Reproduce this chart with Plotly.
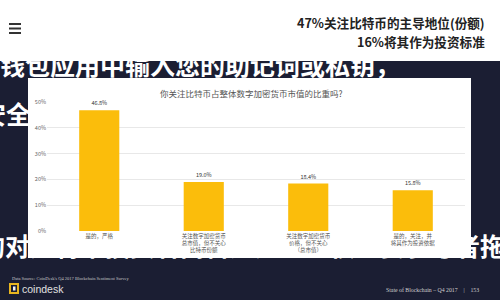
import plotly.graph_objects as go

# ---- data ----
categories = [
    "是的，严格",
    "关注数字加密货币<br>总市值，但不关心<br>比特币份额",
    "关注数字加密货币<br>价格，但不关心<br>（总市值）",
    "是的，关注，并<br>将其作为投资依据",
]
values = [46.8, 19.0, 18.4, 15.8]
value_labels = ["46.8%", "19.0%", "18.4%", "15.8%"]
y_ticks = [0, 10, 20, 30, 40, 50]
y_tick_labels = ["0%", "10%", "20%", "30%", "40%", "50%"]

chart_title = "你关注比特币占整体数字加密货币市值的比重吗?"
headline_1 = "47%关注比特币的主导地位(份额)"
headline_2 = "16%将其作为投资标准"
brush_texts = ["钱包应用中输入您的助记词或私钥，", "安全", "的对", "比特币投资者而言这是一个很重要参考者拖"]
brush_x = [0, 31, 30, 30]
brush_y = [69, 118, 250, 250]
brush_pos = ["middle right", "middle left", "middle left", "middle right"]
source_text = "Data Source: CoinDesk's Q4 2017 Blockchain Sentiment Survey"
footer_right = "State of Blockchain – Q4 2017    |    153"
brand = "coindesk"

W, H = 500, 300
NAVY = "#1b1e33"
BAR = "#fbbd0b"
CJK = "Noto Sans CJK SC"

# plot area of the bar chart, in page pixels
PL, PR, PT, PB = 47, 465, 102, 231
# white panel behind the chart, in page pixels
QL, QR, QT, QB = 28, 471, 78, 258


def px(x):
    return x / W


def py(y):
    return 1 - y / H


fig = go.Figure()
# decorative brush lettering on the navy background (full-page subplot, underneath the panel)
fig.add_trace(go.Scatter(
    x=brush_x, y=brush_y, mode="text", text=brush_texts, textposition=brush_pos,
    textfont=dict(size=25, color="white", family=CJK, weight="bold"),
    cliponaxis=True, hoverinfo="skip", xaxis="x", yaxis="y",
))
# the bar chart
fig.add_trace(go.Bar(
    x=list(range(len(values))),
    y=values,
    marker=dict(color=BAR, line=dict(width=0)),
    text=value_labels,
    textposition="outside",
    textfont=dict(size=5.5, color="#333333", family=CJK),
    cliponaxis=False,
    hoverinfo="skip",
    xaxis="x2", yaxis="y2",
))

pw, ph = PR - PL, PB - PT
shapes = [
    dict(type="rect", xref="paper", yref="paper", x0=0, x1=1, y0=py(61), y1=1,
         fillcolor="white", line=dict(width=0), layer="below"),
    dict(type="rect", xref="x2 domain", yref="y2 domain",
         x0=(QL - PL) / pw, x1=(QR - PL) / pw,
         y0=(PB - QB) / ph, y1=(PB - QT) / ph,
         fillcolor="white", line=dict(width=0), layer="below"),
]
for yy in (24, 28.5, 33):
    shapes.append(dict(type="line", xref="paper", yref="paper", x0=px(9), x1=px(21),
                       y0=py(yy), y1=py(yy), line=dict(color="#333333", width=2)))
shapes.append(dict(type="rect", xref="paper", yref="paper", x0=px(10), x1=px(18),
                   y0=py(293), y1=py(284), fillcolor="rgba(0,0,0,0)",
                   line=dict(color="#e8b520", width=2)))
shapes.append(dict(type="rect", xref="paper", yref="paper", x0=px(13), x1=px(15.5),
                   y0=py(290.5), y1=py(286.5), fillcolor="#f0f0f0",
                   line=dict(width=0)))

ann = []
ann.append(dict(text="<b>" + headline_1 + "</b>", x=px(487), y=py(22), xref="paper", yref="paper",
                xanchor="right", yanchor="middle", showarrow=False,
                font=dict(size=12.6, color="#222222", family=CJK)))
ann.append(dict(text="<b>" + headline_2 + "</b>", x=px(487), y=py(41), xref="paper", yref="paper",
                xanchor="right", yanchor="middle", showarrow=False,
                font=dict(size=12.6, color="#222222", family=CJK)))
ann.append(dict(text=chart_title, x=px(251), y=py(93), xref="paper", yref="paper",
                xanchor="center", yanchor="middle", showarrow=False,
                font=dict(size=8.5, color="#555555", family=CJK)))
ann.append(dict(text=source_text, x=px(10), y=py(278), xref="paper", yref="paper",
                xanchor="left", yanchor="middle", showarrow=False,
                font=dict(size=4.5, color="#c8c8c8", family="Liberation Serif")))
ann.append(dict(text=brand, x=px(20), y=py(289), xref="paper", yref="paper",
                xanchor="left", yanchor="middle", showarrow=False,
                font=dict(size=10.5, color="#e0e0e0", family="Liberation Sans")))
ann.append(dict(text=footer_right, x=px(481), y=py(289.5), xref="paper", yref="paper",
                xanchor="right", yanchor="middle", showarrow=False,
                font=dict(size=5.8, color="#d0d0d0", family="Liberation Serif")))

hidden = dict(visible=False, fixedrange=True)
fig.update_layout(
    width=W, height=H,
    margin=dict(l=0, r=0, t=0, b=0, autoexpand=False),
    paper_bgcolor=NAVY,
    plot_bgcolor="rgba(0,0,0,0)",
    showlegend=False,
    bargap=0.616,
    shapes=shapes,
    annotations=ann,
    xaxis=dict(domain=[0, 1], range=[0, W], **hidden),
    yaxis=dict(domain=[0, 1], range=[H, 0], **hidden),
    xaxis2=dict(
        domain=[px(PL), px(PR)], anchor="y2",
        range=[-0.5, len(values) - 0.5],
        tickvals=list(range(len(values))),
        ticktext=categories,
        tickfont=dict(size=5.5, color="#555555", family=CJK),
        showgrid=False, zeroline=False, showline=False, ticks="",
        fixedrange=True,
    ),
    yaxis2=dict(
        domain=[py(PB), py(PT)], anchor="x2",
        range=[0, 50],
        tickvals=y_ticks,
        ticktext=y_tick_labels,
        tickfont=dict(size=5.5, color="#666666", family=CJK),
        showgrid=True, gridcolor="#e8e8e8", gridwidth=1,
        zeroline=False, showline=False, ticks="",
        fixedrange=True,
    ),
)

fig.write_html("out.html")
